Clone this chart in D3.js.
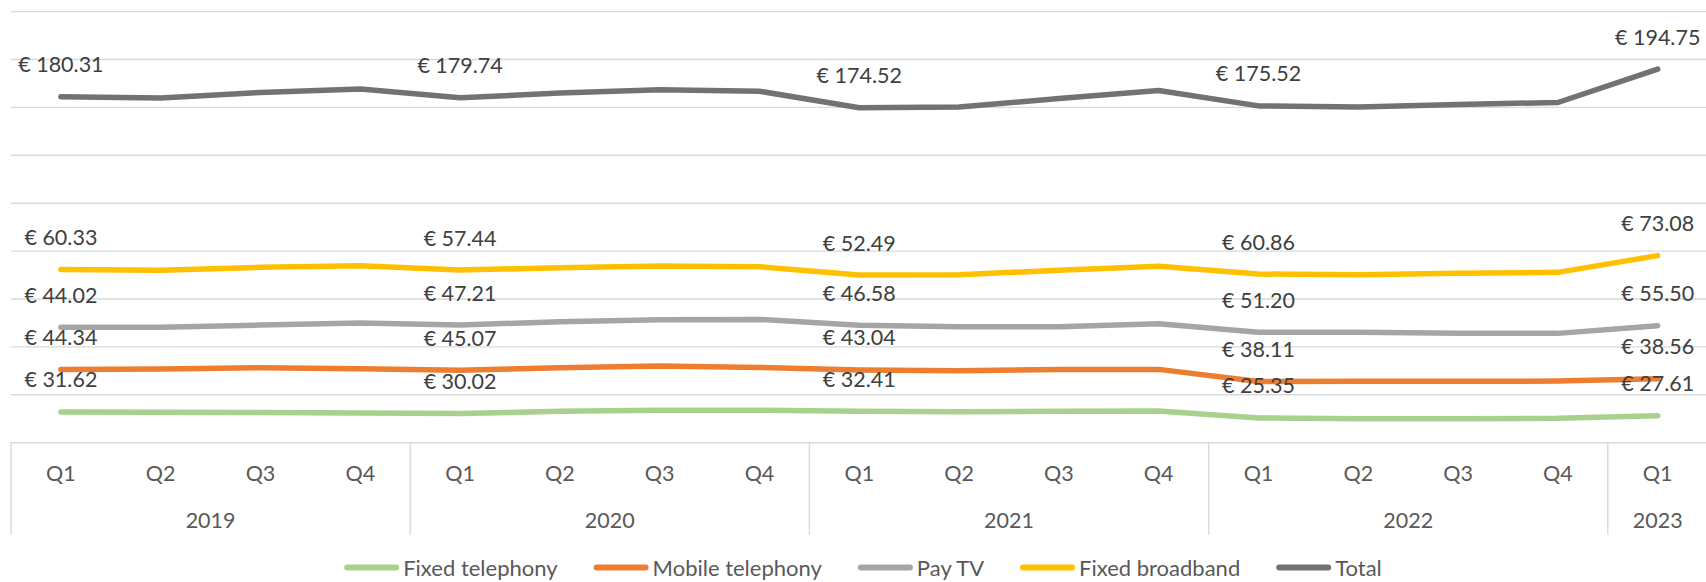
<!DOCTYPE html>
<html>
<head>
<meta charset="utf-8">
<script src="https://cdn.jsdelivr.net/npm/d3@7"></script>
<style>
  html, body { margin: 0; padding: 0; background: #ffffff; }
  svg { display: block; font-family: Lato, "Open Sans", sans-serif; }
</style>
</head>
<body>
<div id="chart"></div>
<script>
// categories (two-level axis)
const quarterLabels = ["Q1", "Q2", "Q3", "Q4", "Q1", "Q2", "Q3", "Q4", "Q1", "Q2", "Q3", "Q4", "Q1", "Q2", "Q3", "Q4", "Q1"];
const yearLabels = ["2019", "2019", "2019", "2019", "2020", "2020", "2020", "2020", "2021", "2021", "2021", "2021", "2022", "2022", "2022", "2022", "2023"];

// series values (€); Q1 values are the labelled ones
const fixedTelephony = [31.62, 31.30, 30.90, 30.50, 30.02, 32.20, 33.30, 33.30, 32.41, 31.90, 32.20, 32.50, 25.35, 24.60, 24.60, 24.90, 27.61];
const mobileTelephony = [44.34, 45.10, 46.90, 46.30, 45.07, 45.60, 46.20, 44.80, 43.04, 42.70, 43.80, 43.50, 38.11, 38.90, 38.90, 38.90, 38.56];
const payTV = [44.02, 43.50, 44.50, 47.60, 47.21, 48.00, 48.40, 50.10, 46.58, 46.00, 44.60, 47.70, 51.20, 51.20, 50.10, 49.80, 55.50];
const fixedBroadband = [60.33, 59.70, 60.25, 59.90, 57.44, 56.40, 56.00, 55.00, 52.49, 54.30, 58.80, 59.90, 60.86, 60.20, 62.70, 63.70, 73.08];
const total = [180.31, 179.60, 182.55, 184.30, 179.74, 182.20, 183.90, 183.20, 174.52, 174.90, 179.40, 183.60, 175.52, 174.90, 176.30, 177.30, 194.75];

const seriesNames = ["Fixed telephony", "Mobile telephony", "Pay TV", "Fixed broadband", "Total"];
const seriesColors = ["#A9D18E", "#ED7D31", "#A5A5A5", "#FFC000", "#767171"];
const yTicks = [0, 50, 100, 150, 200, 250, 300, 350, 400, 450];

const width = 1706, height = 582;
const plot = { left: 11, right: 1707.6, top: 11.1, bottom: 442.2 };

const svg = d3.select('#chart')
  .append('svg')
  .attr('width', width)
  .attr('height', height);

// table for the stacked layout
const valuesByKey = [fixedTelephony, mobileTelephony, payTV, fixedBroadband, total];
const table = quarterLabels.map((q, i) => {
  const row = { i };
  seriesNames.forEach((name, k) => { row[name] = valuesByKey[k][i]; });
  return row;
});
const stacked = d3.stack().keys(seriesNames)(table);

// scales
const x = d3.scaleBand()
  .domain(d3.range(quarterLabels.length))
  .range([plot.left, plot.right])
  .padding(0);
const cx = i => x(i) + x.bandwidth() / 2;

const y = d3.scaleLinear()
  .domain([0, 450])
  .range([plot.bottom, plot.top]);

// grid lines
const grid = svg.append('g')
  .attr('transform', `translate(${plot.left},0)`)
  .call(d3.axisLeft(y).tickValues(yTicks).tickSize(-(width - plot.left)).tickFormat(''));
grid.select('.domain').remove();
grid.selectAll('line')
  .attr('stroke', '#d9d9d9')
  .attr('stroke-width', 1.4);

// category axis: quarter labels
const xAxis = svg.append('g')
  .attr('transform', `translate(0,${plot.bottom})`)
  .call(d3.axisBottom(x).tickSize(0).tickPadding(20).tickFormat(i => quarterLabels[i]));
xAxis.select('.domain').remove();
xAxis.selectAll('text')
  .attr('font-family', 'Lato, sans-serif')
  .attr('font-size', 21.5)
  .attr('fill', '#595959')
  .attr('dy', null)
  .attr('y', 31)
  .attr('dominant-baseline', 'central');

// year groups
const years = Array.from(new Set(yearLabels));
const groups = years.map(yr => {
  const idx = d3.range(yearLabels.length).filter(i => yearLabels[i] === yr);
  return { year: yr, first: d3.min(idx), last: d3.max(idx) };
});

const axisBottom = 535;
const dividers = groups.map(g => x(g.first)).concat([x(groups[groups.length - 1].last) + x.bandwidth()]);
svg.append('g')
  .selectAll('line')
  .data(dividers)
  .join('line')
  .attr('x1', d => d)
  .attr('x2', d => d)
  .attr('y1', plot.bottom)
  .attr('y2', axisBottom)
  .attr('stroke', '#d9d9d9')
  .attr('stroke-width', 1.4);

svg.append('g')
  .selectAll('text')
  .data(groups)
  .join('text')
  .attr('x', g => (x(g.first) + x(g.last) + x.bandwidth()) / 2)
  .attr('y', 519.5)
  .attr('text-anchor', 'middle')
  .attr('dominant-baseline', 'central')
  .attr('font-size', 21.5)
  .attr('fill', '#595959')
  .text(g => g.year);

// stacked lines
const line = d3.line()
  .x(d => cx(d.data.i))
  .y(d => y(d[1]));

svg.append('g')
  .selectAll('path')
  .data(stacked)
  .join('path')
  .attr('d', line)
  .attr('fill', 'none')
  .attr('stroke', (d, k) => seriesColors[k])
  .attr('stroke-width', 5.5)
  .attr('stroke-linecap', 'round')
  .attr('stroke-linejoin', 'round');

// data labels on the Q1 points
const labelled = d3.range(quarterLabels.length).filter(i => quarterLabels[i] === 'Q1');
const labelData = [];
stacked.forEach((s, k) => {
  labelled.forEach(i => {
    labelData.push({ x: cx(i), y: y(s[i][1]), value: valuesByKey[k][i] });
  });
});

svg.append('g')
  .selectAll('text')
  .data(labelData)
  .join('text')
  .attr('x', d => d.x)
  .attr('y', d => d.y - 32.5)
  .attr('text-anchor', 'middle')
  .attr('dominant-baseline', 'central')
  .attr('font-size', 21.5)
  .attr('fill', '#404040')
  .text(d => '€ ' + d.value.toFixed(2));

// legend
const legend = svg.append('g');
const swatchW = 55, gap = 4, itemGap = 36;
let cursor = 0;
seriesNames.forEach((name, k) => {
  const item = legend.append('g').attr('transform', `translate(${cursor},0)`);
  item.append('line')
    .attr('x1', 3).attr('x2', swatchW - 3)
    .attr('y1', 0).attr('y2', 0)
    .attr('stroke', seriesColors[k])
    .attr('stroke-width', 6)
    .attr('stroke-linecap', 'round');
  const t = item.append('text')
    .attr('x', swatchW + gap)
    .attr('y', 0)
    .attr('dominant-baseline', 'central')
    .attr('font-size', 22)
    .attr('fill', '#595959')
    .text(name);
  cursor += swatchW + gap + t.node().getComputedTextLength() + itemGap;
});
const legendW = cursor - itemGap;
legend.attr('transform', `translate(${863 - legendW / 2},567.5)`);
</script>
</body>
</html>
